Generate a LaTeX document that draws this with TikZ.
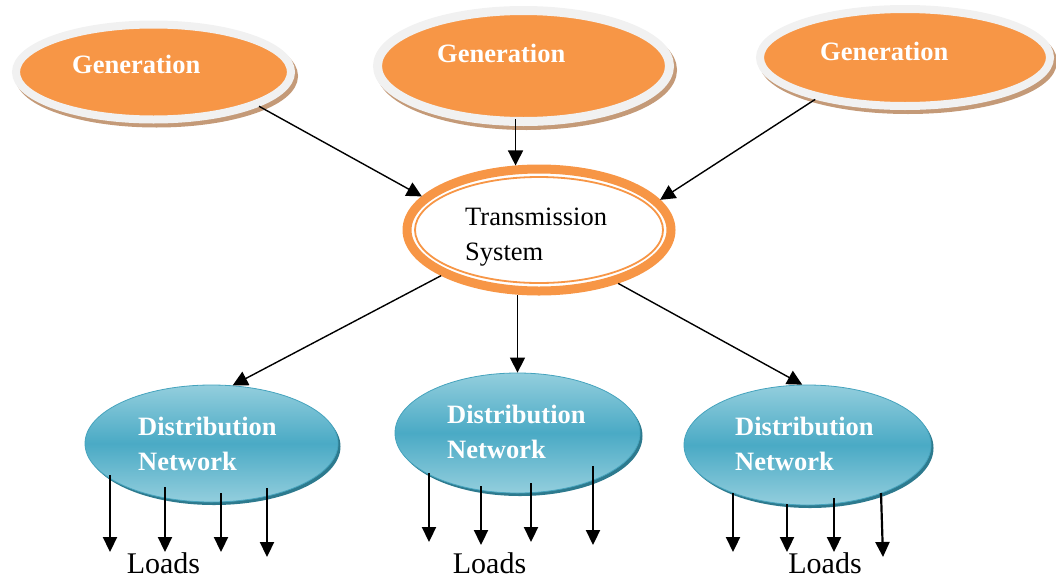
\documentclass[tikz,border=0pt]{standalone}
\usepackage{fontspec}
\setmainfont{Liberation Serif}
\usetikzlibrary{shapes.geometric,arrows.meta,calc}

\definecolor{genorange}{HTML}{F79646}
\definecolor{genring}{HTML}{F1F1F1}
\definecolor{genshadow}{HTML}{C49A78}
\definecolor{distlight}{HTML}{93CEDD}
\definecolor{distmid}{HTML}{4AAAC5}
\definecolor{distedge}{HTML}{45A3BD}
\definecolor{distshadow}{HTML}{2D7A8E}

\tikzset{
  gennode/.style={ellipse, inner sep=0pt, fill=genorange, draw=genring,
    preaction={draw=genshadow, fill=genshadow, transform canvas={shift={(3pt,-4pt)}}}},
  gentext/.style={anchor=base west, inner sep=0pt, text=white,
    font=\fontsize{26.5}{32}\selectfont\bfseries},
  transnode/.style={ellipse, inner sep=0pt, fill=white, draw=genorange, line width=9pt},
  transtext/.style={anchor=base west, inner sep=0pt, text=black,
    font=\fontsize{26.5}{32}\selectfont},
  distnode/.style={ellipse, inner sep=0pt, draw=distedge, line width=0.8pt,
    top color=distlight, bottom color=distlight, middle color=distmid,
    preaction={fill=distshadow, transform canvas={shift={(2.5pt,-3pt)}}}},
  disttext/.style={anchor=base west, inner sep=0pt, text=white,
    font=\fontsize{26.5}{32}\selectfont\bfseries},
  conn/.style={line width=1.4pt, -{Triangle[length=15pt,width=15pt]}},
  load/.style={line width=2.2pt, -{Triangle[length=15pt,width=14pt]}},
  loadtext/.style={anchor=base, inner sep=0pt, font=\fontsize{30}{36}\selectfont}
}

\begin{document}
\begin{tikzpicture}[x=1pt, y=-1pt]
\useasboundingbox (0,0) rectangle (1056,581);

% generation units
\node[gennode, line width=8pt, minimum width=275pt, minimum height=95pt] (g1) at (153.5,72) {};
\node[gennode, line width=9pt, minimum width=292pt, minimum height=111pt] (g2) at (523.5,66) {};
\node[gennode, line width=8pt, minimum width=290pt, minimum height=97pt] (g3) at (905,57.5) {};
\node[gentext] (g1t) at ($(g1.center)+(-81.5,1)$) {Generation};
\node[gentext] (g2t) at ($(g2.center)+(-86.5,-4)$) {Generation};
\node[gentext] (g3t) at ($(g3.center)+(-85,2.5)$) {Generation};

% transmission system with its inner line
\node[transnode, minimum width=264pt, minimum height=122pt] (t) at (539,230) {};
\draw[genorange, line width=1.8pt] (t.center) ellipse [x radius=124pt, y radius=53pt];
\node[transtext] (t1) at ($(t.center)+(-74,-5)$) {Transmission};
\node[transtext] (t2) at ($(t.center)+(-74,30)$) {System};

% distribution networks
\node[distnode, minimum width=253pt, minimum height=117pt] (d1) at (211.5,443.5) {};
\node[distnode, minimum width=245pt, minimum height=120pt] (d2) at (517.5,433) {};
\node[distnode, minimum width=247pt, minimum height=120pt] (d3) at (807.5,445) {};
\node[disttext] (d1a) at ($(d1.center)+(-73.5,-8.5)$) {Distribution};
\node[disttext] (d1b) at ($(d1.center)+(-73.5,26.5)$) {Network};
\node[disttext] (d2a) at ($(d2.center)+(-70.5,-10)$) {Distribution};
\node[disttext] (d2b) at ($(d2.center)+(-70.5,25)$) {Network};
\node[disttext] (d3a) at ($(d3.center)+(-72.5,-10)$) {Distribution};
\node[disttext] (d3b) at ($(d3.center)+(-72.5,25)$) {Network};

% power flow: generation -> transmission -> distribution
\draw[conn] (g1.-18.4) -- (t.164.1);
\draw[conn, shorten <=-7pt] (g2.south -| t.110) -- (t.110);
\draw[conn] (g3.205.7) -- (t.14.5);
\draw[conn] (t.205.4) -- (d1.70.7);
\draw[conn] (t.-100 -| d2.north) -- (d2.north);
\draw[conn] (t.-34.8) -- (d3.95.2);

% loads of the left network
\draw[load] ($(d1.center)+(-101.5,31.5)$) -- ++(0,77);
\draw[load] ($(d1.center)+(-46.5,43.5)$) -- ++(0,65);
\draw[load] ($(d1.center)+(9.5,49.5)$) -- ++(0,59);
\draw[load] ($(d1.center)+(55.5,44.5)$) -- ++(0,69);
\node[loadtext] (l1) at (163.5,573) {Loads};

% loads of the middle network
\draw[load] ($(d2.center)+(-88.5,40)$) -- ++(0,69);
\draw[load] ($(d2.center)+(-36.5,53)$) -- ++(0,59);
\draw[load] ($(d2.center)+(13.5,50)$) -- ++(0,59);
\draw[load] ($(d2.center)+(75.5,33)$) -- ++(0,79);
\node[loadtext] (l2) at (489.5,573) {Loads};

% loads of the right network
\draw[load] ($(d3.center)+(-74.5,48)$) -- ++(0,59);
\draw[load] ($(d3.center)+(-20.5,59)$) -- ++(0,48);
\draw[load] ($(d3.center)+(26.5,53)$) -- ++(0,54);
\draw[load] ($(d3.center)+(73.5,48)$) -- ++(2,64);
\node[loadtext] (l3) at (825,573) {Loads};
\end{tikzpicture}
\end{document}
